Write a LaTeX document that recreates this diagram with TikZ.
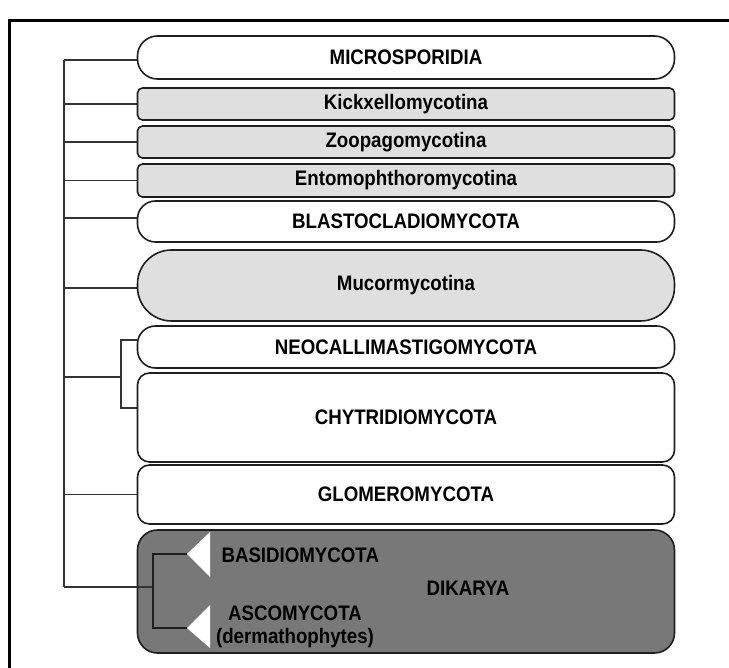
\documentclass[tikz,border=0pt]{standalone}
\usepackage{fontspec}
\setmainfont{Liberation Sans}[FakeStretch=0.89]

\definecolor{boxline}{HTML}{1E1E1E}
\definecolor{treeline}{HTML}{333333}
\definecolor{palegrey}{HTML}{DFDFDF}
\definecolor{darkgrey}{HTML}{787878}

\begin{document}
\begin{tikzpicture}[
    x=1pt, y=-1pt,
    every node/.style={font=\fontsize{21}{23}\selectfont\bfseries},
    taxon/.style={draw=boxline, line width=1.6pt, minimum width=537pt, inner sep=0pt},
    phylum/.style={taxon, fill=white, rounded corners=18pt},
    subphylum/.style={taxon, fill=palegrey, rounded corners=5pt},
    branch/.style={draw=treeline, line width=1.4pt}
]
    \useasboundingbox (0,0) rectangle (729,668);

    % marco exterior (solo bordes superior e izquierdo visibles)
    \draw[line width=3pt] (9.5,668) -- (9.5,20.5) -- (729,20.5);

    % cajas de los grupos
    \node[phylum, rounded corners=20pt, minimum height=43pt] (micro) at (406,57.5) {MICROSPORIDIA};
    \node[subphylum, minimum height=32pt] (kick) at (406,104) {Kickxellomycotina};
    \node[subphylum, minimum height=32pt] (zoop) at (406,142) {Zoopagomycotina};
    \node[subphylum, minimum height=33pt] (ento) at (406,180.5) {Entomophthoromycotina};
    \node[phylum, minimum height=41pt] (blas) at (406,221.5) {BLASTOCLADIOMYCOTA};
    \node[subphylum, rounded corners=34pt, minimum height=71pt] (muco) at (406,285.5) {Mucormycotina};
    \node[phylum, minimum height=42pt] (neoc) at (406,347) {NEOCALLIMASTIGOMYCOTA};
    \node[phylum, rounded corners=12pt, minimum height=89pt] (chyt) at (406,417.5) {CHYTRIDIOMYCOTA};
    \node[phylum, rounded corners=12pt, minimum height=59pt] (glom) at (406,494.5) {GLOMEROMYCOTA};
    \node[taxon, fill=darkgrey, rounded corners=20pt, minimum height=123pt] (dika) at (406,591.5) {};

    % textos dentro de Dikarya
    \node (dikl) at (468,588) {DIKARYA};
    \node[anchor=west] (basi) at (218,555) {BASIDIOMYCOTA};
    \node[align=center] (asco) at (295,627) {ASCOMYCOTA\\(dermathophytes)};

    % triangulos blancos de los dos filos
    \coordinate (basT) at (187,554);
    \coordinate (ascT) at (187,628);
    \fill[white] (basT) -- (210,532) -- (210,577) -- cycle;
    \fill[white] (ascT) -- (210,605) -- (210,648) -- cycle;

    % puntos de ramificacion
    \coordinate (trunk) at (64,60);
    \coordinate (chyb) at (121,377);
    \coordinate (dikb) at (153,587);

    % tronco principal
    \draw[branch] (trunk) -- (trunk |- dikb);

    % ramas hacia cada grupo
    \draw[branch] ([yshift=-2.5pt]micro.west) -- (trunk);
    \draw[branch] (kick.west) -- (kick.west -| trunk);
    \draw[branch] (zoop.west) -- (zoop.west -| trunk);
    \draw[branch] (ento.west) -- (ento.west -| trunk);
    \draw[branch] ([yshift=3.5pt]blas.west) -- ([yshift=3.5pt]blas.west -| trunk);
    \draw[branch] ([yshift=-2.5pt]muco.west) -- ([yshift=-2.5pt]muco.west -| trunk);
    \draw[branch] (glom.west) -- (glom.west -| trunk);
    \draw[branch] (chyb) -- (chyb -| trunk);
    \draw[branch] (dikb) -- (dikb -| trunk);

    % Neocallimastigomycota + Chytridiomycota
    \draw[branch] ([yshift=7pt]neoc.west) -| (chyb) |- ([yshift=9.5pt]chyt.west);

    % Basidiomycota + Ascomycota
    \draw[branch, draw=boxline] (basT) -| (dikb) |- (ascT);
\end{tikzpicture}
\end{document}
